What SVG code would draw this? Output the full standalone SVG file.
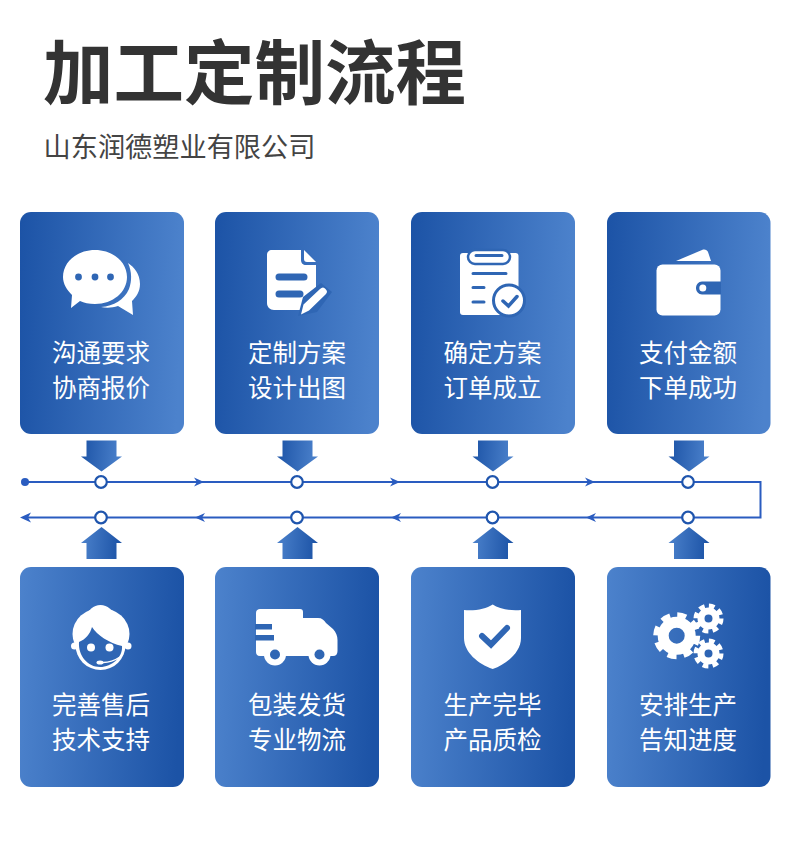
<svg xmlns="http://www.w3.org/2000/svg" width="790" height="843" viewBox="0 0 790 843">
<style>
text{font-family:"Noto Sans CJK SC","Noto Sans",sans-serif}
.title{font-size:70.5px;font-weight:700;fill:#333}
.sub{font-size:27.2px;fill:#444}
.lab{font-size:24.5px;fill:#fff;text-anchor:middle}
.w{fill:#fff}
.b{fill:#2f66b4}
.bl{fill:none;stroke:#2f66b4;stroke-linecap:round}
.line{fill:none;stroke:#2a5cc0;stroke-width:2}
.dot{fill:#fff;stroke:#1f55ad;stroke-width:2.2}
.ah{fill:#2a5cc0}
</style>
<defs>
<linearGradient id="gt" x1="0" y1="0" x2="1" y2="0.05"><stop offset="0" stop-color="#1c53a6"/><stop offset="1" stop-color="#4c82cc"/></linearGradient>
<linearGradient id="gb" x1="0" y1="0" x2="1" y2="0.05"><stop offset="0" stop-color="#4c82cc"/><stop offset="1" stop-color="#1c53a6"/></linearGradient>
<path id="down" d="M-15-31H15V-15H20.500L0 0L-20.500-15H-15Z" fill="url(#gt)"/>
<path id="up" d="M-15 32H15V16H20.500L0 0L-20.500 16H-15Z" fill="url(#gb)"/>
</defs>
<rect width="790" height="843" fill="#fff"/>
<g id="header">
<text class="title" x="43" y="99">加工定制流程</text>
<text class="sub" x="43.500" y="157">山东润德塑业有限公司</text>
</g>

<g id="connectors">
<path class="line" d="M25 482H760.500V517.500H24"/>
<circle cx="25" cy="482" r="4" fill="#2a5cc0"/>
<path class="ah" d="M204 482L194 477.500L197 482L194 486.500Z"/>
<path class="ah" d="M400 482L390 477.500L393 482L390 486.500Z"/>
<path class="ah" d="M595 482L585 477.500L588 482L585 486.500Z"/>
<path class="ah" d="M20 517.500L31 512.500L28 517.500L31 522.500Z"/>
<path class="ah" d="M195 517.500L205 513L202 517.500L205 522Z"/>
<path class="ah" d="M391 517.500L401 513L398 517.500L401 522Z"/>
<path class="ah" d="M586 517.500L596 513L593 517.500L596 522Z"/>
<use href="#down" x="101.500" y="471.500"/>
<use href="#down" x="297.500" y="471.500"/>
<use href="#down" x="493" y="471.500"/>
<use href="#down" x="689" y="471.500"/>
<use href="#up" x="101.500" y="527"/>
<use href="#up" x="297.500" y="527"/>
<use href="#up" x="493" y="527"/>
<use href="#up" x="689" y="527"/>
<circle class="dot" cx="101" cy="482" r="5.800"/>
<circle class="dot" cx="297" cy="482" r="5.800"/>
<circle class="dot" cx="492.500" cy="482" r="5.800"/>
<circle class="dot" cx="688" cy="482" r="5.800"/>
<circle class="dot" cx="101" cy="517.500" r="5.800"/>
<circle class="dot" cx="297" cy="517.500" r="5.800"/>
<circle class="dot" cx="492.500" cy="517.500" r="5.800"/>
<circle class="dot" cx="688" cy="517.500" r="5.800"/>
</g>

<g id="node-1">
<rect x="20" y="212" width="164" height="222" rx="11" fill="url(#gt)"/>
<path class="w" d="M128 263C134 267 140 274 140 284C140 292 136 297 132 301L133 315L118 306C112 308 106 308 101 307C114 306 124 300 129 289C132 281 132 272 128 263Z"/>
<path class="w" d="M95 250C113 250 127 262 127 277C127 292 113 304 95 304C89 304 84 303 80 301L71 308L72 295C67 290 63 284 63 277C63 262 77 250 95 250Z"/>
<circle class="b" cx="78.500" cy="277" r="3.400"/><circle class="b" cx="95" cy="277" r="3.400"/><circle class="b" cx="110.500" cy="277" r="3.400"/>
<text class="lab" x="101" y="362">沟通要求</text>
<text class="lab" x="101" y="397">协商报价</text>
</g>

<g id="node-2">
<rect x="215" y="212" width="164" height="222" rx="11" fill="url(#gt)"/>
<path class="w" d="M272 250H301V260C301 263 303 265 306 265H316V303C316 307 313 310 309 310H274C270 310 267 307 267 303V255C267 252 269 250 272 250Z"/>
<path class="w" d="M304 250L316 262H307C305 262 304 261 304 259Z"/>
<path class="bl" stroke-width="7" d="M279 277H304M279 294H300"/>
<path class="b" d="M298 316L303 297L321 283L332 292L317 312Z"/>
<path class="w" d="M301 314.500L303.500 304.500L320 289C322 287 324 287 325.500 289C327.500 291 327.500 292.500 325.500 294.500L309 310.500Z"/>
<text class="lab" x="297" y="362">定制方案</text>
<text class="lab" x="297" y="397">设计出图</text>
</g>

<g id="node-3">
<rect x="411" y="212" width="164" height="222" rx="11" fill="url(#gt)"/>
<rect class="w" x="460" y="253" width="58.500" height="62" rx="3"/>
<rect class="w" x="468" y="250" width="42" height="14" rx="7" stroke="#2f66b4" stroke-width="2.500"/>
<path class="bl" stroke-width="3" d="M476 255.500H502M473 273.500H506M473 287.500H484M473 302H484"/>
<circle class="w" cx="509" cy="300.500" r="15.500" stroke="#2f66b4" stroke-width="3"/>
<path class="bl" stroke-width="3.500" d="M503 301L508.500 306L517 296.500"/>
<text class="lab" x="492.500" y="362">确定方案</text>
<text class="lab" x="492.500" y="397">订单成立</text>
</g>

<g id="node-4">
<rect x="607" y="212" width="163.500" height="222" rx="11" fill="url(#gt)"/>
<path class="w" d="M676 261L702 250C705 249 707 250 708 252L711 261Z"/>
<rect class="w" x="656.500" y="264.500" width="64" height="51" rx="6"/>
<path class="b" d="M721 281.500H702C698.500 281.500 696 284.500 696 288C696 291.500 698.500 294.500 702 294.500H721Z"/>
<circle class="w" cx="702.800" cy="288" r="3.500"/>
<text class="lab" x="688" y="362">支付金额</text>
<text class="lab" x="688" y="397">下单成功</text>
</g>

<g id="node-5">
<rect x="20" y="567" width="164" height="220" rx="11" fill="url(#gb)"/>
<circle class="w" cx="100.500" cy="645" r="25"/>
<ellipse class="w" cx="100.500" cy="617" rx="13" ry="12"/>
<ellipse class="w" cx="101" cy="634" rx="28.500" ry="26"/>
<circle class="w" cx="74.500" cy="646" r="3.500"/><circle class="w" cx="128" cy="646" r="3.500"/>
<path class="b" d="M79 642C86 639 90 634 92 627C97 635 109 643 122 646C123 657 112 667 100 667C88 667 78 656 79 642Z"/>
<circle class="w" cx="91" cy="647.500" r="4"/><circle class="w" cx="109.500" cy="647.500" r="4"/>
<path fill="none" stroke="#fff" stroke-width="1.500" d="M120 657C114 661 107 663 101 662.500"/>
<ellipse class="w" cx="100" cy="662.500" rx="3.500" ry="2"/>
<text class="lab" x="101" y="714">完善售后</text>
<text class="lab" x="101" y="749">技术支持</text>
</g>

<g id="node-6">
<rect x="215" y="567" width="164" height="220" rx="11" fill="url(#gb)"/>
<path class="w" d="M260 609H300C302 609 303 610 303 612V618H318C322 618 324 620 326 623L333 629C336 632 337.500 636 337.500 640V651C337.500 654 336 656 333 656H260C257 656 256 654 256 652V613C256 610 258 609 260 609Z"/>
<rect class="b" x="255" y="624" width="17" height="5.500"/><rect class="b" x="255" y="635" width="19" height="5.500"/>
<circle class="w" cx="275" cy="654.500" r="11"/><circle class="b" cx="275" cy="654.500" r="5"/>
<circle class="w" cx="319.500" cy="654.500" r="11"/><circle class="b" cx="319.500" cy="654.500" r="5"/>
<text class="lab" x="297" y="714">包装发货</text>
<text class="lab" x="297" y="749">专业物流</text>
</g>

<g id="node-7">
<rect x="411" y="567" width="164" height="220" rx="11" fill="url(#gb)"/>
<path class="w" d="M492.700 604.500C499 609 510 611 521 610V638C521 652 507 664 492.700 669C478 664 464 652 464 638V610C475 611 486 609 492.700 604.500Z"/>
<path class="bl" stroke-width="6" d="M482 636L491 644.500L507 628"/>
<text class="lab" x="492.500" y="714">生产完毕</text>
<text class="lab" x="492.500" y="749">产品质检</text>
</g>

<g id="node-8">
<rect x="607" y="567" width="163.500" height="220" rx="11" fill="url(#gb)"/>
<circle fill="none" stroke="#fff" stroke-width="7" cx="676.700" cy="635.700" r="20" stroke-dasharray="8.700 7"/>
<circle fill="none" stroke="#fff" stroke-width="11" cx="676.700" cy="635.700" r="13.500"/>
<circle fill="none" stroke="#fff" stroke-width="5" cx="708.500" cy="618.500" r="12.500" stroke-dasharray="5.600 4.220"/>
<circle fill="none" stroke="#fff" stroke-width="7" cx="708.500" cy="618.500" r="7.500"/>
<circle fill="none" stroke="#fff" stroke-width="5" cx="708.500" cy="653.500" r="12.500" stroke-dasharray="5.600 4.220"/>
<circle fill="none" stroke="#fff" stroke-width="7" cx="708.500" cy="653.500" r="7.500"/>
<text class="lab" x="688" y="714">安排生产</text>
<text class="lab" x="688" y="749">告知进度</text>
</g>
</svg>
